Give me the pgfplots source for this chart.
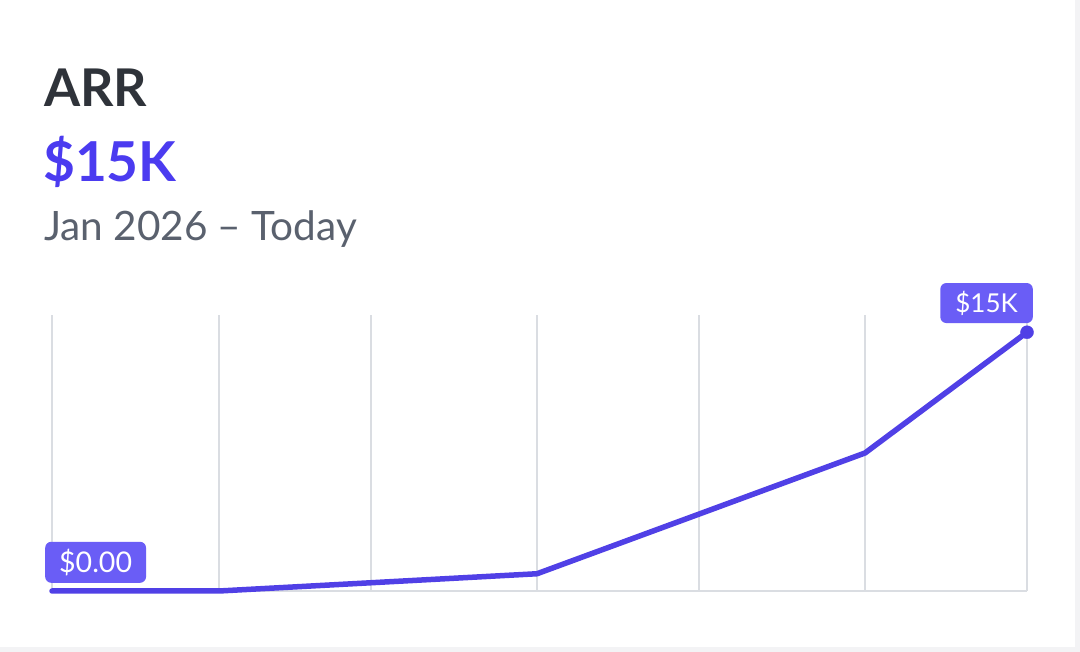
\documentclass[border=0pt]{standalone}
\usepackage{pgfplots}
\pgfplotsset{compat=1.18}
\usepackage{fontspec}
\setmainfont{Lato}
\definecolor{ink}{HTML}{2F333A}
\definecolor{brand}{HTML}{4B3BF0}
\definecolor{subc}{HTML}{5A616E}
\definecolor{gridc}{HTML}{DADDE2}
\definecolor{tag}{HTML}{6A5DF6}
\definecolor{page}{HTML}{F3F3F5}
\definecolor{linec}{HTML}{5040E6}
\begin{document}
\begin{tikzpicture}[x=1pt,y=1pt]
\fill[page] (0,0) rectangle (1080,652);
\fill[white] (0,5) rectangle (1075,652);
\node[anchor=base west, inner sep=0, text=ink, font=\fontsize{52}{60}\selectfont\bfseries] at (44,545) {ARR};
\node[anchor=base west, inner sep=0, text=brand, font=\fontsize{55}{64}\selectfont\bfseries] at (43,470) {\$15K};
\node[anchor=base west, inner sep=0, text=subc, font=\fontsize{40.5}{46}\selectfont] at (44,411) {Jan 2026 – Today};
\begin{axis}[
    at={(52pt,61pt)}, anchor=south west,
    scale only axis, width=975pt, height=276pt,
    xmin=0, xmax=975, ymin=0, ymax=16000,
    axis x line*=bottom, axis y line=none,
    xtick={0,167,319,485,647,813,975}, xticklabels={},
    major tick length=0pt, ytick=\empty,
    xmajorgrids, grid style={gridc, line width=2.5pt},
    x axis line style={gridc, line width=2.5pt, -},
    clip=false,
  ]
\addplot[linec, line width=5.5pt, line cap=round, line join=round]
  coordinates {(0,0) (167,0) (485,1000) (813,8000) (975,15000)};
\addplot[linec, only marks, mark=*, mark size=6.5pt]
  coordinates {(975,15000)};
\node[anchor=south west, fill=tag, text=white, rounded corners=6pt,
      minimum height=41pt, inner xsep=14pt, font=\fontsize{28.5}{32}\selectfont]
  at ([xshift=-7pt,yshift=8pt]axis cs:0,0) {\$0.00};
\node[anchor=south east, fill=tag, text=white, rounded corners=6pt,
      minimum height=40pt, inner xsep=15pt, font=\fontsize{26}{30}\selectfont]
  at ([xshift=6pt,yshift=9pt]axis cs:975,15000) {\$15K};
\end{axis}
\end{tikzpicture}
\end{document}
